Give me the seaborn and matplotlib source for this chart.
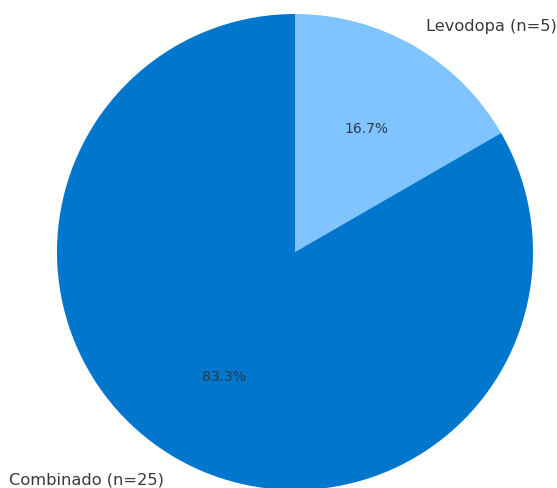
import matplotlib
matplotlib.use("Agg")
import matplotlib.pyplot as plt
import seaborn as sns

sns.set_theme(style="white")
plt.rcParams['font.family'] = ['DejaVu Sans']

labels = ["Levodopa (n=5)", "Combinado (n=25)"]
values = [5, 25]
colors = ["#80C4FF", "#0077CC"]

W, H = 557, 489
fig = plt.figure(figsize=(W / 100, H / 100), dpi=100)
R = 238
cx, cy = 295, H - 253
side = 2.5 * R
ax = fig.add_axes([(cx - side / 2) / W, (cy - side / 2) / H, side / W, side / H])
wedges, texts, autotexts = ax.pie(
    values, labels=labels, colors=colors, autopct="%1.1f%%",
    startangle=90, counterclock=False,
    wedgeprops={"linewidth": 0},
    textprops={"fontsize": 11.7, "color": "#3a3a3a"},
)
for t in autotexts:
    t.set_fontsize(10)
    t.set_color("#2b3a4a")
ax.set_xlim(-1.25, 1.25)
ax.set_ylim(-1.25, 1.25)
ax.set_aspect("equal")
fig.savefig("out.png", dpi=100)
